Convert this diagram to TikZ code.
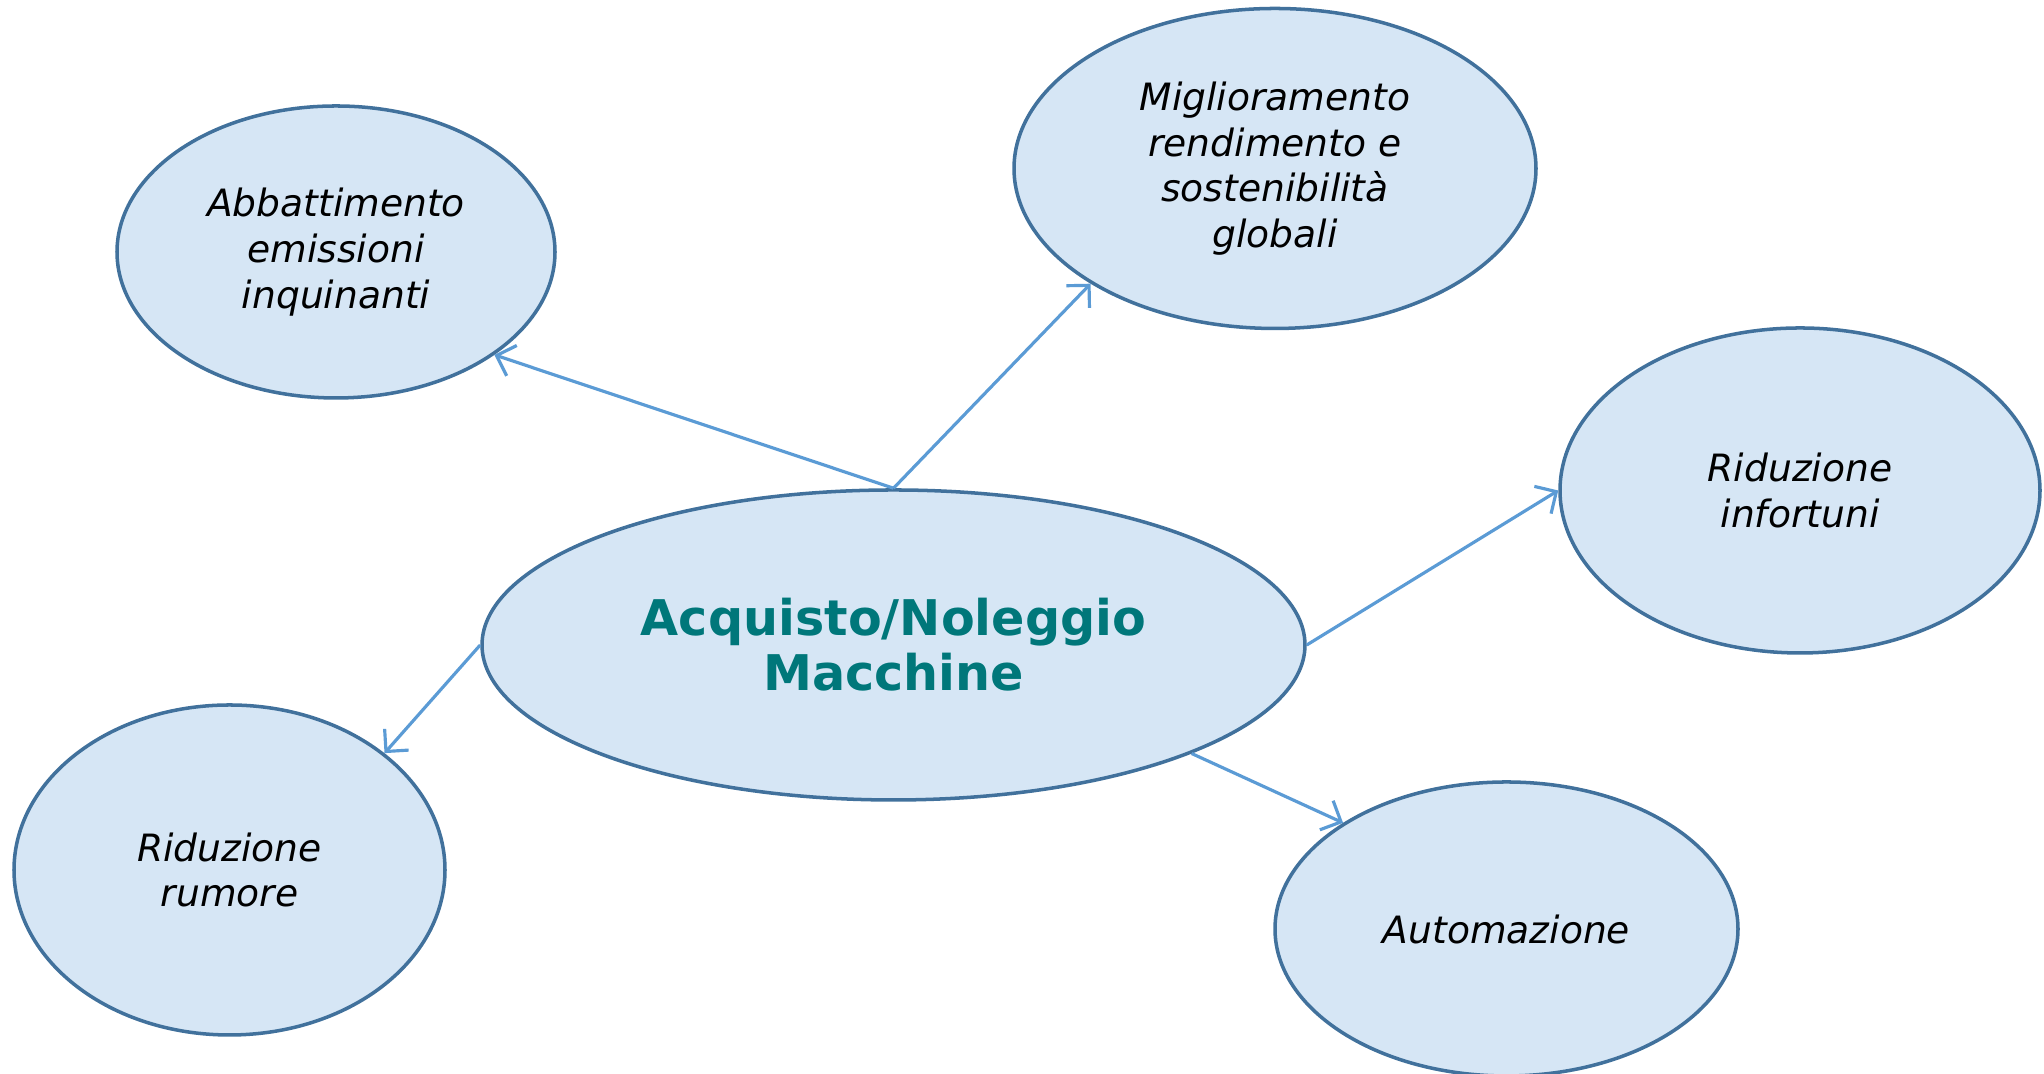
\documentclass[tikz,border=0pt]{standalone}
\usepackage{fontspec}
\setmainfont{DejaVu Sans}
\usetikzlibrary{shapes.geometric,arrows.meta}
\definecolor{bubblefill}{RGB}{214,230,245}
\definecolor{bubbleline}{RGB}{65,113,156}
\definecolor{arrowblue}{RGB}{91,155,213}
\definecolor{titleteal}{RGB}{0,119,122}

\begin{document}
\begin{tikzpicture}[x=0.1mm,y=0.1mm,->,>={Straight Barb[length=1.6mm,width=3.2mm]},
                    draw=arrowblue,line width=0.9pt]
  \tikzstyle{bubble}=[ellipse,draw=bubbleline,fill=bubblefill,line width=1pt,
                      inner sep=0pt,align=center,text=black,
                      font=\itshape\fontsize{10.7}{13}\selectfont]
  \tikzstyle{hub}=[bubble,text=titleteal,font=\bfseries\fontsize{14}{15.6}\selectfont]
\useasboundingbox (0,0) rectangle (2044,1074);
\node [hub] (cen) at (893.5,429) [minimum width=8.23cm,minimum height=3.10cm]
      {Acquisto/Noleggio\\Macchine};
\node [bubble] (abb) at (336,822) [minimum width=4.38cm,minimum height=2.92cm]
      {Abbattimento\\emissioni\\inquinanti};
\node [bubble] (mig) at (1275,905.5) [minimum width=5.22cm,minimum height=3.20cm]
      {Miglioramento\\rendimento e\\sostenibilità\\globali};
\node [bubble] (inf) at (1800,583.5) [minimum width=4.80cm,minimum height=3.25cm]
      {Riduzione\\infortuni};
\node [bubble] (rum) at (229.5,204) [minimum width=4.31cm,minimum height=3.30cm]
      {Riduzione\\rumore};
\node [bubble] (aut) at (1506.5,145) [minimum width=4.63cm,minimum height=2.94cm]
      {Automazione};

\path (cen.north) edge (abb.-33.3)
      (cen.north) edge (mig.-148.6)
      (cen.east)  edge (inf.west)
      (cen.west)  edge (rum.37.5)
      (cen.-20.6) edge (aut.147.5);
\end{tikzpicture}
\end{document}
